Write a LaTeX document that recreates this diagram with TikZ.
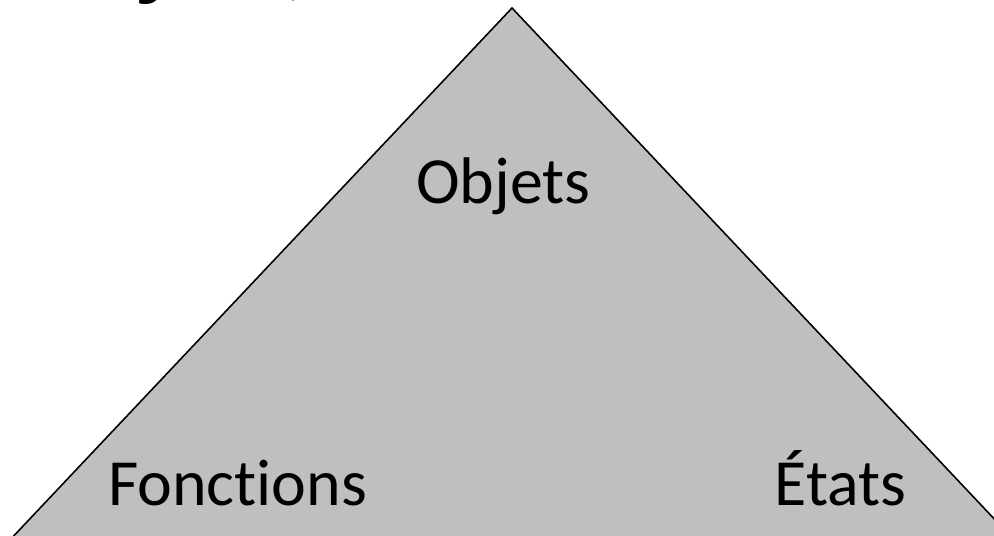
\documentclass[tikz,border=0pt]{standalone}
\usepackage{fontspec}
\setmainfont[Ligatures=NoCommon]{Carlito}

\begin{document}
\begin{tikzpicture}[line join=miter]
  \tikzset{
    sommet/.style={anchor=base, inner sep=0pt, font=\fontsize{37.5}{45}\selectfont},
    titre/.style={anchor=base west, inner sep=0pt, font=\fontsize{54}{64}\selectfont\bfseries}
  }
  \colorlet{triangle}{black!25}

  \useasboundingbox (0,0) rectangle (19.88,-10.70);
  \clip (0,0) rectangle (19.88,-10.70);

  % Title line, cut by the page top
  \node[titre] (titre) at (0.54,0.23) {Objets,};

  % The triangle
  \draw[fill=triangle, line width=0.9pt] (10.24,-0.16) -- (20.66,-11.2) -- (-0.18,-11.2) -- cycle;

  % Corners
  \node[sommet] (objets) at (10.07,-4.06) {Objets};
  \node[sommet] (fonctions) at (4.75,-10.10) {Fonctions};
  \node[sommet] (etats) at (16.81,-10.10) {États};
\end{tikzpicture}
\end{document}
